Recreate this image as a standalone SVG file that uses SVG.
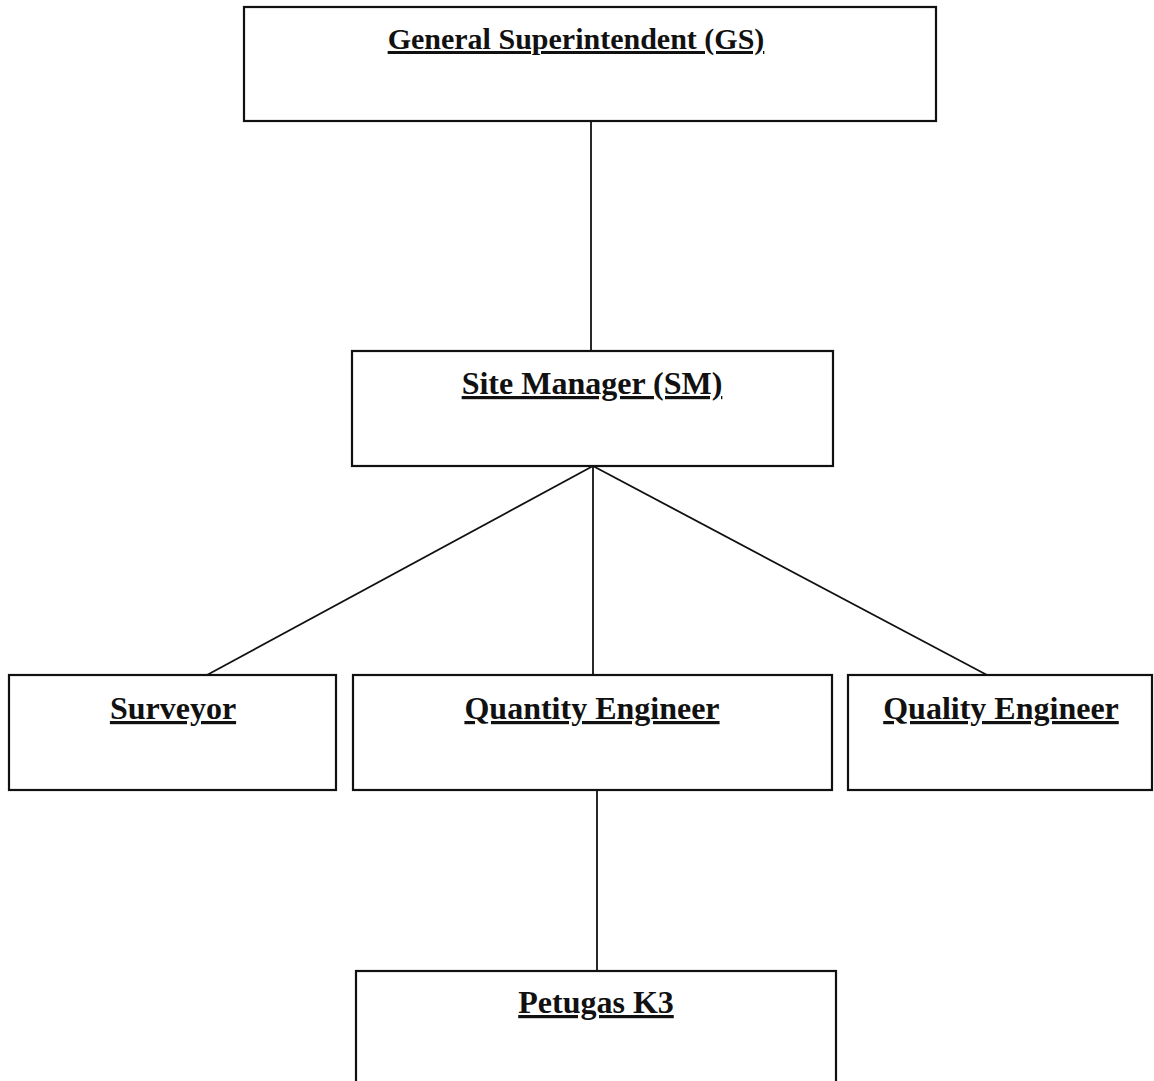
<svg xmlns="http://www.w3.org/2000/svg" width="1154" height="1081" viewBox="0 0 1154 1081">
<style>
.box{fill:#fff;stroke:#111;stroke-width:2.2}
.lbl{font-family:"Liberation Serif","Times New Roman",serif;font-weight:bold;font-size:32px;fill:#111;text-anchor:middle;text-decoration:underline}
.conn{stroke:#111;stroke-width:1.8;fill:none}
</style>
<rect width="1154" height="1081" fill="#fff"/>
<g id="connectors">
<line class="conn" x1="591" y1="121" x2="591" y2="351"/>
<line class="conn" x1="593" y1="466" x2="207" y2="675"/>
<line class="conn" x1="593" y1="466" x2="593" y2="675"/>
<line class="conn" x1="593" y1="466" x2="987" y2="675"/>
<line class="conn" x1="597" y1="790" x2="597" y2="971"/>
</g>
<g id="gs"><rect class="box" x="244" y="7" width="692" height="114"/><text class="lbl" x="576" y="49" style="font-size:30px">General Superintendent (GS)</text></g>
<g id="sm"><rect class="box" x="352" y="351" width="481" height="115"/><text class="lbl" x="592" y="394">Site Manager (SM)</text></g>
<g id="surveyor"><rect class="box" x="9" y="675" width="327" height="115"/><text class="lbl" x="173" y="719">Surveyor</text></g>
<g id="quantity"><rect class="box" x="353" y="675" width="479" height="115"/><text class="lbl" x="592" y="719">Quantity Engineer</text></g>
<g id="quality"><rect class="box" x="848" y="675" width="304" height="115"/><text class="lbl" x="1001" y="719">Quality Engineer</text></g>
<g id="petugas"><rect class="box" x="356" y="971" width="480" height="130"/><text class="lbl" x="596" y="1013">Petugas K3</text></g>
</svg>
